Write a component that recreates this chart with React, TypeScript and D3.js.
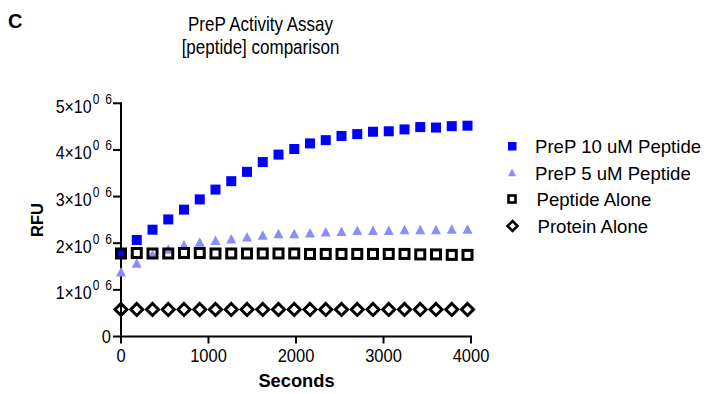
import React from "react";
import * as d3 from "d3";

const seconds = d3.range(23).map((i) => i * 180);
const prep10 = [1.79, 2.07, 2.29, 2.51, 2.72, 2.94, 3.15, 3.33, 3.53, 3.74, 3.9, 4.02, 4.14, 4.21, 4.3, 4.34, 4.39, 4.4, 4.44, 4.49, 4.48, 4.51, 4.52];
const prep5 = [1.37, 1.56, 1.75, 1.86, 1.95, 2.01, 2.05, 2.08, 2.12, 2.16, 2.19, 2.19, 2.21, 2.23, 2.24, 2.26, 2.26, 2.26, 2.28, 2.28, 2.28, 2.29, 2.29];
const peptideAlone = [1.78, 1.79, 1.78, 1.78, 1.79, 1.79, 1.78, 1.78, 1.78, 1.78, 1.78, 1.78, 1.77, 1.77, 1.77, 1.77, 1.77, 1.77, 1.77, 1.76, 1.76, 1.75, 1.75];
const proteinAlone = [0.58, 0.58, 0.58, 0.58, 0.58, 0.58, 0.58, 0.58, 0.58, 0.58, 0.58, 0.58, 0.58, 0.58, 0.58, 0.58, 0.58, 0.58, 0.58, 0.58, 0.58, 0.58, 0.58];
const xTicks = [0, 1000, 2000, 3000, 4000];
const yTicks = [0, 1, 2, 3, 4, 5];
const legendLabels = ["PreP 10 uM Peptide", "PreP 5 uM Peptide", "Peptide Alone", "Protein Alone"];

const FONT = "Arial, 'Liberation Sans', sans-serif";
const BLUE = "#0000FF";
const LIGHT = "#8C8CFF";

function Txt(props: {
  x: number; y: number; size: number; sy?: number; anchor?: string; bold?: boolean; rotate?: number; children: React.ReactNode;
}) {
  const { x, y, size, sy = 1, anchor = "start", bold, rotate = 0, children } = props;
  return (
    <text
      transform={`translate(${x},${y}) rotate(${rotate}) scale(1,${sy})`}
      fontSize={size}
      fontWeight={bold ? "bold" : "normal"}
      textAnchor={anchor}
    >
      {children}
    </text>
  );
}

export default function App() {
  const x = d3.scaleLinear().domain([0, 4000]).range([121, 471]);
  const y = d3.scaleLinear().domain([0, 5]).range([336.5, 103.3]);

  const tri = (cx: number, cy: number, s: number) =>
    `M${cx},${cy - s * 0.55} L${cx + s / 2},${cy + s * 0.4} L${cx - s / 2},${cy + s * 0.4} Z`;
  const dia = (cx: number, cy: number, r: number) =>
    `M${cx},${cy - r} L${cx + r},${cy} L${cx},${cy + r} L${cx - r},${cy} Z`;

  const legendY = [146, 173, 199, 226];

  return (
    <svg width={707} height={394} style={{ display: "block", position: "absolute", left: 0, top: 0 }} fontFamily={FONT}>
      <rect width={707} height={394} fill="#fff" />
      <Txt x={8} y={28} size={20} bold>C</Txt>
      <Txt x={260.5} y={31} size={17} sy={1.14} anchor="middle">PreP Activity Assay</Txt>
      <Txt x={260.5} y={54} size={17} sy={1.14} anchor="middle">[peptide] comparison</Txt>

      {/* axes */}
      <line x1={x(0)} x2={x(0)} y1={y(5) - 1} y2={y(0) + 1} stroke="#000" strokeWidth={2} />
      <line x1={x(0) - 1} x2={x(4000) + 1} y1={y(0)} y2={y(0)} stroke="#000" strokeWidth={2} />
      {yTicks.map((t) => (
        <g key={t}>
          <line x1={x(0) - 8} x2={x(0)} y1={y(t)} y2={y(t)} stroke="#000" strokeWidth={2} />
          {t === 0 ? (
            <Txt x={111} y={y(t) + 6} size={16.5} sy={1.12} anchor="end">0</Txt>
          ) : (
            <Txt x={112} y={y(t) + 9.5} size={16} sy={1.2} anchor="end">
              {`${t}×10`}
              <tspan fontSize={12} dx={1} dy={-7.5}>0</tspan>
              <tspan fontSize={12} dx={6}>6</tspan>
            </Txt>
          )}
        </g>
      ))}
      {xTicks.map((t) => (
        <g key={t}>
          <line x1={x(t)} x2={x(t)} y1={y(0)} y2={y(0) + 7} stroke="#000" strokeWidth={2} />
          <Txt x={x(t)} y={362} size={16.5} sy={1.12} anchor="middle">{t}</Txt>
        </g>
      ))}
      <Txt x={296.5} y={386.5} size={18.3} bold anchor="middle">Seconds</Txt>
      <Txt x={42.5} y={220} size={16.5} bold rotate={-90} anchor="middle">RFU</Txt>

      {/* series */}
      {proteinAlone.map((v, i) => (
        <path key={"d" + i} d={dia(x(seconds[i]), y(v), 6)} fill="none" stroke="#000" strokeWidth={3} />
      ))}
      {prep5.map((v, i) => (
        <path key={"t" + i} d={tri(x(seconds[i]), y(v), 10)} fill={LIGHT} />
      ))}
      {prep10.map((v, i) => (
        <rect key={"s" + i} x={x(seconds[i]) - 5} y={y(v) - 5} width={10} height={10} fill={BLUE} />
      ))}
      {peptideAlone.map((v, i) => (
        <rect key={"o" + i} x={x(seconds[i]) - 4.5} y={y(v) - 4.5} width={9} height={9} fill="none" stroke="#000" strokeWidth={3} />
      ))}

      {/* legend */}
      <rect x={508} y={legendY[0] - 4} width={8.5} height={8.5} fill={BLUE} />
      <path d={tri(512, legendY[1], 8)} fill={LIGHT} />
      <rect x={508.5} y={legendY[2] - 3.5} width={7} height={7} fill="none" stroke="#000" strokeWidth={2.6} />
      <path d={dia(512.5, legendY[3], 5)} fill="none" stroke="#000" strokeWidth={2.6} />
      {legendLabels.map((l, i) => (
        <Txt key={l} x={i < 2 ? 535 : i === 2 ? 536.5 : 537.5} y={legendY[i] + 6.5} size={18.6}>{l}</Txt>
      ))}
    </svg>
  );
}
